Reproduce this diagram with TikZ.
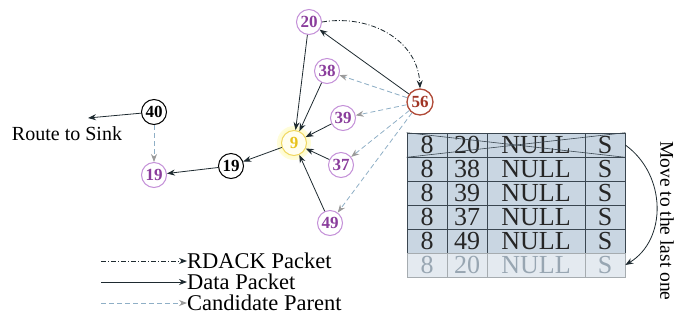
\documentclass[tikz,border=0pt]{standalone}
\usepackage{fontspec}
\setmainfont{Liberation Serif}
\usetikzlibrary{arrows.meta}
\definecolor{edge}{HTML}{1E2A30}
\definecolor{candln}{HTML}{8FAFC6}
\definecolor{candtip}{HTML}{9A9A9A}
\definecolor{purp}{HTML}{C490D8}
\definecolor{purptxt}{HTML}{8A3D9C}
\definecolor{rust}{HTML}{B04A38}
\definecolor{rusttxt}{HTML}{A03424}
\definecolor{gold}{HTML}{F0D860}
\definecolor{goldtxt}{HTML}{E8C21C}
\definecolor{cellfill}{HTML}{C9D6E2}
\definecolor{cellpale}{HTML}{E4EAF0}
\definecolor{gridline}{HTML}{3A4650}
\definecolor{paletxt}{HTML}{98A6B2}
\begin{document}
\begin{tikzpicture}[x=1pt,y=-1pt,
  every node/.style={inner sep=0pt},
  nd/.style={circle, minimum size=25pt, line width=1pt, font=\fontsize{17}{17}\selectfont\bfseries},
  candnode/.style={nd, draw=purp, text=purptxt, fill=white},
  plainnode/.style={nd, draw=black, text=black, fill=white},
  hubnode/.style={nd, draw=gold, text=goldtxt, fill=yellow!6},
  srcnode/.style={nd, draw=rust, text=rusttxt, line width=1.3pt, minimum size=26pt, fill=white},
  dataline/.style={draw=edge, line width=0.8pt, -{Stealth[length=8pt,width=6pt]}},
  candline/.style={draw=candln, line width=0.8pt, dash pattern=on 5pt off 3pt, -{Stealth[length=8pt,width=6pt,color=candtip,fill=candtip]}},
  ackline/.style={draw=edge, line width=0.8pt, dash pattern=on 5pt off 2pt on 1pt off 2pt, -{Stealth[length=8pt,width=6pt]}},
  cell/.style={draw=gridline, line width=0.6pt, fill=cellfill, minimum height=24pt, font=\fontsize{26}{26}\selectfont, text=black!85},
  palecell/.style={cell, fill=cellpale, text=paletxt, draw=gridline!45},
  label/.style={font=\fontsize{22.5}{22}\selectfont, anchor=west},
]
\useasboundingbox (0,0) rectangle (677,325);

% soft halo round the forwarding node
\fill[yellow!30, opacity=0.5] (294,143) circle (17);
\fill[yellow!20, opacity=0.5] (294,143) circle (15);

% routing nodes
\node[plainnode] (n40) at (154,112) {40};
\node[candnode]  (n19a) at (154,175) {19};
\node[plainnode] (n19b) at (231,166) {19};
\node[hubnode]   (n9) at (294,143) {9};
\node[candnode]  (n20) at (309,22) {20};
\node[candnode]  (n38) at (327,71) {38};
\node[candnode]  (n39) at (343,118) {39};
\node[candnode]  (n37) at (341,165) {37};
\node[candnode]  (n49) at (330,223) {49};
\node[srcnode]   (n56) at (420,102) {56};

% route towards the sink
\coordinate (sink) at (88,118);
\node[font=\fontsize{20}{20}\selectfont] (rts) at (67,134) {Route to Sink};
\draw[dataline] (n40) -- (sink);
\draw[candline] (n40) -- (n19a);
\draw[dataline] (n19b) -- (n19a);
\draw[dataline] (n9) -- (n19b);

% data packets converging on node 9
\draw[dataline] (n20) -- (n9);
\draw[dataline] (n38) -- (n9);
\draw[dataline] (n39) -- (n9);
\draw[dataline] (n37) -- (n9);
\draw[dataline] (n49) -- (n9);

% node 56 and its candidate parents
\draw[dataline] (n56) -- (n20);
\draw[ackline] (n20.east) .. controls (370,14) and (418,40) .. (n56.north);
\draw[candline] (n56) -- (n38);
\draw[candline] (n56) -- (n39);
\draw[candline] (n56) -- (n37);
\draw[candline] (n56) -- (n49);

% candidate parent table
\foreach \r/\id in {1/20,2/38,3/39,4/37,5/49} {
  \pgfmathsetmacro\yy{121+24*\r}
  \node[cell, minimum width=40pt] (c\r1) at (427,\yy) {8};
  \node[cell, minimum width=40pt] (c\r2) at (467,\yy) {\id};
  \node[cell, minimum width=98pt] (c\r3) at (536,\yy) {NULL};
  \node[cell, minimum width=40pt] (c\r4) at (605,\yy) {S};
}
\node[palecell, minimum width=40pt] (c61) at (427,265) {8};
\node[palecell, minimum width=40pt] (c62) at (467,265) {20};
\node[palecell, minimum width=98pt] (c63) at (536,265) {NULL};
\node[palecell, minimum width=40pt] (c64) at (605,265) {S};
\draw[gridline, line width=0.6pt] (c11.north west) -- (c14.south east);
\draw[gridline, line width=0.6pt] (c11.south west) -- (c14.north east);

% moving the first entry to the end
\draw[dataline] (c14.east) .. controls (667,175) and (667,240) .. (c64.east);
\node[rotate=-90, font=\fontsize{19.5}{19}\selectfont] (move) at (667,221) {Move to the last one};

% legend
\node[label] (lg1) at (187,261) {RDACK Packet};
\node[label] (lg2) at (187,282) {Data Packet};
\node[label] (lg3) at (187,303) {Candidate Parent};
\coordinate (la1) at (101,261);
\coordinate (la2) at (101,282);
\coordinate (la3) at (101,303);
\draw[ackline] (la1) -- (lg1.west);
\draw[dataline] (la2) -- (lg2.west);
\draw[candline] (la3) -- (lg3.west);
\end{tikzpicture}
\end{document}
